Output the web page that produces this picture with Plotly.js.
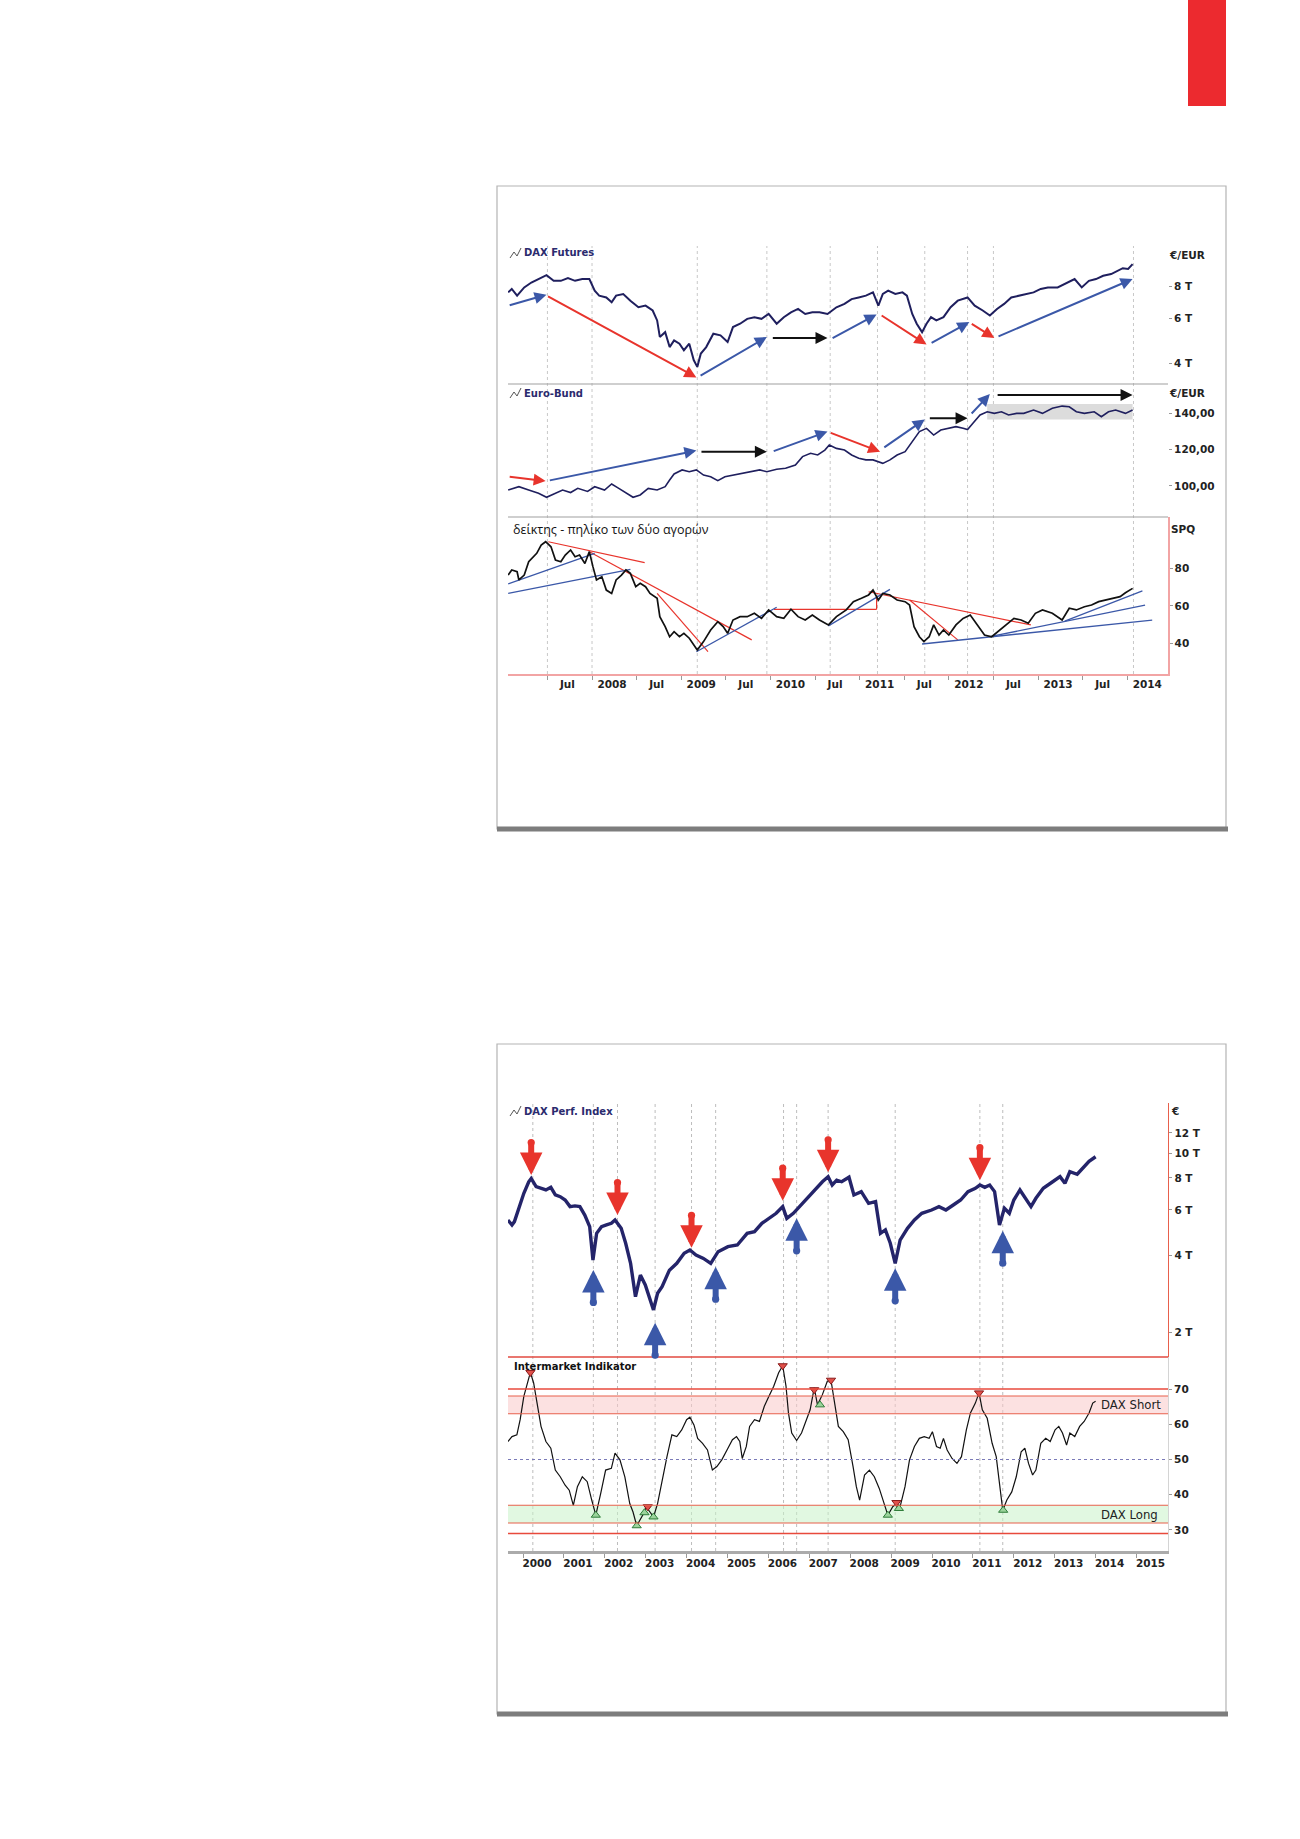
<!DOCTYPE html>
<html>
<head>
<meta charset="utf-8">
<script src="https://cdn.plot.ly/plotly-3.0.1.min.js"></script>
<style>html,body{margin:0;padding:0;background:#fff;}#chart{width:1300px;height:1839px;}</style>
</head>
<body>
<div id="chart"></div>
<script>
// ---------- Panel 1 : DAX Futures (decimal years) ----------
const daxFutT = [2007.06,2007.10,2007.16,2007.24,2007.32,2007.40,2007.49,2007.57,2007.65,2007.73,2007.81,2007.89,2007.97,
2008.03,2008.08,2008.16,2008.22,2008.27,2008.35,2008.43,2008.52,2008.60,2008.68,2008.73,2008.76,2008.82,2008.87,2008.92,2008.98,
2009.03,2009.09,2009.14,2009.18,2009.22,2009.28,2009.36,2009.44,2009.52,2009.58,2009.66,2009.74,2009.82,2009.90,2009.98,
2010.07,2010.15,2010.23,2010.31,2010.39,2010.47,2010.55,2010.64,2010.74,2010.83,2010.91,2010.99,
2011.07,2011.15,2011.21,2011.26,2011.32,2011.40,2011.48,2011.53,2011.59,2011.64,2011.70,2011.75,2011.80,2011.86,2011.94,
2012.02,2012.10,2012.21,2012.29,2012.38,2012.46,2012.54,2012.62,2012.70,2012.78,2012.86,2012.95,
2013.03,2013.11,2013.22,2013.33,2013.41,2013.49,2013.57,2013.65,2013.73,2013.82,2013.90,2013.95,2014.01,2014.06];
const daxFutV = [7600,7840,7380,7950,8310,8575,8880,8440,8440,8650,8440,8575,8575,
7720,7380,7260,6945,7380,7490,7050,6640,6740,6450,5895,5075,5300,4630,4920,4775,
4500,4775,4115,3870,4365,4630,5225,5150,4845,5550,5720,5980,6070,5980,6250,
5720,6070,6345,6540,6250,6345,6345,6250,6640,6845,7150,7260,
7380,7600,6740,7490,7720,7490,7600,7380,6250,5720,5300,5720,6070,5895,6070,
6640,7050,7260,6740,6450,6160,6540,6845,7260,7380,7490,7600,
7840,7950,7950,8310,8575,7950,8440,8575,8830,8970,9240,9465,9400,9815];

// ---------- Panel 1 : Euro-Bund ----------
const bundT = [2007.06,2007.18,2007.29,2007.40,2007.49,2007.59,2007.67,2007.76,2007.84,2007.95,2008.03,2008.14,2008.22,2008.30,2008.38,
2008.46,2008.54,2008.63,2008.73,2008.82,2008.87,2008.92,2009.01,2009.09,2009.17,2009.25,2009.33,2009.41,2009.49,2009.58,
2009.68,2009.79,2009.88,2009.96,2010.07,2010.17,2010.28,2010.36,2010.45,2010.53,2010.61,2010.66,2010.74,2010.83,2010.91,
2010.99,2011.07,2011.15,2011.26,2011.34,2011.42,2011.51,2011.59,2011.67,2011.75,2011.83,2011.91,2012.00,2012.08,2012.16,
2012.21,2012.27,2012.35,2012.43,2012.51,2012.59,2012.67,2012.76,2012.84,2012.95,2013.05,2013.16,2013.27,2013.35,2013.43,
2013.52,2013.63,2013.71,2013.79,2013.87,2013.98,2014.06];
const bundV = [97.8,99.6,97.8,96.0,93.8,96.0,97.8,96.4,98.7,97.0,99.6,97.8,101.1,98.7,96.0,
93.8,95.1,98.7,97.8,99.6,103.3,106.6,108.8,107.8,108.8,106.0,105.1,102.9,105.1,106.0,
107.0,107.8,108.8,107.8,109.2,109.7,111.5,116.1,117.9,117.0,119.7,122.5,120.6,119.7,117.0,
115.2,114.3,114.3,112.4,114.3,117.0,118.8,124.3,129.8,131.6,127.9,130.7,131.6,132.5,131.6,
130.9,134.4,138.9,140.7,139.8,140.7,138.9,139.8,139.8,141.6,139.8,142.6,143.8,143.4,140.7,
139.8,140.7,138.0,140.7,141.6,139.8,141.6];
const bundBand = {t0: 2012.43, t1: 2014.06, v0: 136.5, v1: 144.9};

// ---------- Panel 1 : ratio index (SPQ) ----------
const spqT = [2007.06,2007.10,2007.16,2007.18,2007.24,2007.29,2007.38,2007.43,2007.48,2007.54,2007.59,2007.65,2007.70,2007.76,2007.81,
2007.86,2007.92,2007.97,2008.01,2008.05,2008.11,2008.16,2008.22,2008.27,2008.33,2008.38,2008.43,2008.49,2008.54,2008.60,
2008.65,2008.73,2008.76,2008.82,2008.87,2008.92,2008.98,2009.03,2009.09,2009.14,2009.18,2009.25,2009.33,2009.41,2009.47,
2009.52,2009.58,2009.66,2009.74,2009.82,2009.90,2009.98,2010.07,2010.15,2010.23,2010.31,2010.39,2010.47,2010.55,2010.65,
2010.74,2010.85,2010.93,2011.02,2011.10,2011.15,2011.21,2011.26,2011.34,2011.42,2011.51,2011.56,2011.61,2011.67,2011.72,
2011.78,2011.83,2011.89,2011.94,2012.00,2012.08,2012.16,2012.24,2012.32,2012.40,2012.48,2012.57,2012.65,2012.73,2012.81,
2012.89,2012.97,2013.05,2013.16,2013.27,2013.35,2013.43,2013.52,2013.60,2013.68,2013.76,2013.84,2013.92,2013.98,2014.03,2014.06];
const spqV = [76.5,79.2,78.3,73.9,76.5,83.6,88.1,92.5,94.3,91.6,84.5,83.6,87.2,89.9,86.3,
87.2,82.7,89.0,81.0,73.9,75.6,68.5,66.7,73.9,76.5,79.2,77.4,70.3,72.1,70.3,
66.7,64.1,54.3,49.0,43.6,46.3,43.6,45.4,42.8,39.2,36.5,41.0,47.2,51.6,49.0,
45.4,52.5,54.3,54.3,56.1,53.4,57.9,54.3,53.4,58.3,54.3,52.5,55.2,52.5,49.9,
54.3,57.9,62.3,64.1,65.9,68.5,63.2,66.7,65.9,63.2,62.3,60.5,49.0,43.6,41.0,
43.6,49.9,44.5,47.2,44.5,49.9,53.4,55.2,49.9,44.5,43.6,47.2,49.9,53.4,52.5,
50.8,56.1,57.9,56.1,52.5,58.8,57.9,59.6,60.5,62.3,63.2,64.1,65.0,67.1,68.5,69.4];

// arrows drawn on the charts: [tailT, tailV, headT, headV]
const daxArrowsUp   = [[2007.06,6740,2007.49,7445],[2009.20,3545,2009.96,5075],[2010.68,4990,2011.19,6220],[2011.79,4775,2012.23,5805],[2012.54,5075,2014.06,8575]];
const daxArrowsDown = [[2007.49,7380,2009.17,3518],[2011.23,6220,2011.75,4735],[2012.24,5760,2012.51,5030]];
const daxArrowsFlat = [[2010.01,5030,2010.64,5030]];
const bundArrowsUp   = [[2007.51,102.9,2009.17,119.4],[2010.02,118.8,2010.64,129.8],[2011.26,120.6,2011.73,136.5],[2012.24,138.9,2012.46,150.4]];
const bundArrowsDown = [[2007.06,105.1,2007.48,102.7],[2010.66,129.4,2011.23,118.8]];
const bundArrowsFlat = [[2009.21,118.8,2009.96,118.8],[2011.77,137.1,2012.21,137.1],[2012.53,149.9,2014.06,149.9]];
// trend lines on the ratio: [t0, v0, t1, v1]
const spqLinesRed  = [[2007.51,94.3,2008.59,83.1],[2007.97,89.0,2009.79,41.9],[2008.73,66.7,2009.30,35.6],[2010.04,58.2,2011.19,58.2],[2011.19,58.2,2011.19,65.0],[2011.10,67.6,2012.92,49.9],[2011.56,63.2,2012.10,41.9]];
const spqLinesBlue = [[2007.06,71.8,2008.03,88.1],[2007.06,66.7,2008.43,79.6],[2009.17,35.6,2010.07,59.3],[2010.65,49.4,2011.34,68.9],[2011.70,39.7,2014.28,52.5],[2012.46,43.6,2014.20,60.5],[2013.30,51.9,2014.17,68.1]];
const panel1Grid = [2007.50,2008.00,2009.18,2009.96,2010.67,2011.20,2011.73,2012.21,2012.50,2014.07];
const panel1TickVals = [2007.5,2008,2008.5,2009,2009.5,2010,2010.5,2011,2011.5,2012,2012.5,2013,2013.5,2014];
const panel1TickText = ['Jul','2008','Jul','2009','Jul','2010','Jul','2011','Jul','2012','Jul','2013','Jul','2014'];

// ---------- Panel 2 : DAX Perf. Index ----------
const daxPerfT = [1999.63,1999.73,1999.79,1999.91,2000.02,2000.14,2000.20,2000.32,2000.44,2000.56,2000.68,2000.79,2000.91,
2001.03,2001.15,2001.27,2001.39,2001.51,2001.63,2001.71,2001.80,2001.92,2002.04,2002.16,2002.25,2002.40,2002.51,2002.63,2002.75,2002.87,2002.99,
2003.11,2003.19,2003.29,2003.40,2003.58,2003.76,2003.94,2004.08,2004.23,2004.41,2004.59,2004.77,2005.01,2005.24,2005.48,2005.66,2005.84,
2006.01,2006.19,2006.35,2006.45,2006.61,2006.79,2006.96,2007.14,2007.32,2007.46,2007.56,2007.67,2007.79,2007.97,
2008.09,2008.27,2008.45,2008.62,2008.74,2008.86,2008.98,2009.10,2009.22,2009.40,2009.57,2009.75,2009.99,
2010.17,2010.34,2010.52,2010.70,2010.88,2011.06,2011.17,2011.29,2011.41,2011.53,2011.65,2011.77,2011.89,
2012.00,2012.15,2012.30,2012.42,2012.54,2012.72,2012.95,2013.13,2013.25,2013.37,2013.55,2013.69,2013.84,2014.00];
const daxPerfV = [5480,5240,5400,6180,6970,7730,7960,7395,7290,7180,7350,6865,6760,
6560,6180,6220,6180,5730,5160,3825,4860,5160,5240,5320,5480,5085,4445,3710,2750,3340,3055,
2670,2440,2835,3010,3490,3710,4060,4185,4000,3880,3710,4120,4310,4375,4860,4935,5320,
5560,5820,6180,5560,5820,6270,6660,7180,7730,8090,7505,7840,7730,8050,
6865,7075,6365,6460,4860,5010,4445,3710,4575,5085,5480,5820,5995,
6180,5995,6270,6560,7075,7290,7505,7350,7505,7075,5240,6090,5820,
6560,7180,6560,6180,6660,7290,7730,8090,7620,8460,8270,8750,9290,9680];
const sellArrowTips = [[2000.20,8210],[2002.31,5730],[2004.12,4270],[2006.35,6520],[2007.46,8415],[2011.17,7840]];
const buyArrowTips  = [[2001.72,3497],[2003.23,2177],[2004.71,3600],[2006.69,5565],[2009.10,3548],[2011.73,4980]];

// ---------- Panel 2 : Intermarket Indikator ----------
const indT = [1999.63,1999.73,1999.85,1999.93,2000.02,2000.12,2000.18,2000.26,2000.36,2000.44,2000.56,2000.68,2000.79,2000.91,
2001.03,2001.13,2001.23,2001.33,2001.45,2001.57,2001.68,2001.78,2001.90,2002.02,2002.16,2002.25,2002.37,2002.49,2002.61,2002.69,
2002.78,2002.87,2002.97,2003.01,2003.11,2003.19,2003.29,2003.40,2003.52,2003.64,2003.76,2003.88,2004.00,2004.08,2004.18,
2004.27,2004.39,2004.51,2004.63,2004.74,2004.86,2005.01,2005.12,2005.22,2005.30,2005.36,2005.46,2005.54,2005.66,2005.78,
2005.90,2006.01,2006.13,2006.25,2006.35,2006.43,2006.49,2006.57,2006.69,2006.81,2006.93,2007.02,2007.12,2007.20,2007.32,
2007.44,2007.53,2007.62,2007.71,2007.83,2007.95,2008.07,2008.15,2008.23,2008.35,2008.47,2008.59,2008.71,2008.80,2008.92,
2009.04,2009.13,2009.22,2009.34,2009.45,2009.57,2009.69,2009.81,2009.93,2010.01,2010.11,2010.20,2010.28,2010.37,2010.49,
2010.61,2010.72,2010.84,2010.94,2011.06,2011.15,2011.23,2011.35,2011.47,2011.57,2011.65,2011.73,2011.83,2011.95,2012.06,
2012.18,2012.27,2012.36,2012.46,2012.54,2012.66,2012.78,2012.89,2013.01,2013.10,2013.19,2013.29,2013.37,2013.49,2013.61,
2013.72,2013.84,2013.93,2014.00];
const indV = [55.1,56.5,57.0,61.3,67.9,72.7,74.7,71.7,65.1,59.4,55.1,53.2,47.0,45.1,
42.7,41.3,37.0,42.3,45.1,43.7,38.5,34.2,40.4,47.0,47.5,51.8,49.9,45.1,37.5,35.1,
31.2,33.2,35.1,36.6,35.1,33.7,37.5,44.2,50.8,57.0,56.5,58.4,61.3,62.0,59.8,
56.0,54.6,52.7,47.0,48.0,49.9,53.2,55.6,56.5,55.1,50.3,53.7,59.4,61.3,60.8,
65.1,67.9,70.8,74.6,76.6,70.8,63.2,57.5,55.4,57.5,61.3,64.1,70.3,65.5,68.4,
72.2,72.5,66.0,59.4,57.9,55.6,48.0,42.3,38.5,45.6,47.0,45.1,41.8,38.5,34.2,
36.6,37.5,36.6,42.3,49.9,53.7,56.0,56.5,56.0,57.9,53.7,53.2,56.0,52.7,50.3,
48.9,50.8,58.4,63.2,66.0,68.9,64.1,61.7,54.6,50.8,42.3,35.6,38.5,40.8,45.1,
52.2,53.2,48.9,45.6,47.0,54.6,56.0,55.1,58.4,59.4,57.5,54.1,57.5,56.5,59.4,
60.8,63.2,66.0,66.5];
const sellSignals = [[2000.18,74.7],[2003.05,36.6],[2006.35,76.6],[2007.12,69.8],[2007.53,72.5],[2009.13,37.8],[2011.15,68.9]];
const buySignals  = [[2001.78,34.2],[2002.78,31.2],[2002.97,34.9],[2003.19,33.7],[2007.26,65.5],[2008.92,34.2],[2009.19,36.1],[2011.74,35.6]];
const shortZone = [63, 68];
const longZone  = [32, 37];
const redLevels = [70, 68, 63, 37, 32, 29];
const midLevel = 50;
const panel2Grid = [2000.24,2001.72,2002.31,2003.23,2004.12,2004.71,2006.37,2006.69,2007.46,2009.10,2011.17,2011.73];
const panel2Years = [2000,2001,2002,2003,2004,2005,2006,2007,2008,2009,2010,2011,2012,2013,2014,2015];

// ---------- drawing ----------
const W = 1300, H = 1839;
const fx = p => p / W, fy = p => 1 - p / H;
const X0 = 508, X1 = 1168;
const NAVY = '#1f1f5e', RED = '#e8342c', BLUE = '#3b58a8', LRED = '#e8604c';
const tickFont = {family: 'DejaVu Sans, Verdana, sans-serif', size: 10.5, color: '#222', weight: 'bold'};

const traces = [];
traces.push({x: daxFutT, y: daxFutV, xaxis: 'x', yaxis: 'y', mode: 'lines', line: {color: NAVY, width: 2}});
traces.push({x: bundT, y: bundV, xaxis: 'x', yaxis: 'y2', mode: 'lines', line: {color: NAVY, width: 1.6}});
spqLinesRed.forEach(l => traces.push({x: [l[0], l[2]], y: [l[1], l[3]], xaxis: 'x', yaxis: 'y3', mode: 'lines', line: {color: RED, width: 1.2}}));
spqLinesBlue.forEach(l => traces.push({x: [l[0], l[2]], y: [l[1], l[3]], xaxis: 'x', yaxis: 'y3', mode: 'lines', line: {color: BLUE, width: 1.3}}));
traces.push({x: spqT, y: spqV, xaxis: 'x', yaxis: 'y3', mode: 'lines', line: {color: '#111', width: 1.7}});
traces.push({x: daxPerfT, y: daxPerfV, xaxis: 'x2', yaxis: 'y4', mode: 'lines', line: {color: '#24246a', width: 3.4}});
traces.push({x: indT, y: indV, xaxis: 'x2', yaxis: 'y5', mode: 'lines', line: {color: '#111', width: 1.2}});
traces.push({x: buySignals.map(s => s[0]), y: buySignals.map(s => s[1]), xaxis: 'x2', yaxis: 'y5', mode: 'markers',
  marker: {symbol: 'triangle-up', size: 8, color: '#9bd49b', line: {color: '#2f7d3a', width: 1}}});
traces.push({x: sellSignals.map(s => s[0]), y: sellSignals.map(s => s[1]), xaxis: 'x2', yaxis: 'y5', mode: 'markers',
  marker: {symbol: 'triangle-down', size: 8, color: '#e0504a', line: {color: '#8a1c1c', width: 1}}});

const shapes = [];
const ann = [];
// red corner block
shapes.push({type: 'rect', xref: 'paper', yref: 'paper', x0: fx(1188), x1: fx(1226), y0: fy(106), y1: fy(0), fillcolor: '#ec2a2f', line: {width: 0}});
// panel frames
[[186, 829], [1044, 1714]].forEach(b => {
  shapes.push({type: 'rect', xref: 'paper', yref: 'paper', x0: fx(497), x1: fx(1226), y0: fy(b[1]), y1: fy(b[0]), line: {color: '#b4b4b4', width: 1.2}});
  shapes.push({type: 'line', xref: 'paper', yref: 'paper', x0: fx(497), x1: fx(1228), y0: fy(b[1]), y1: fy(b[1]), line: {color: '#7d7d7d', width: 5}});
});
// separators panel 1
[384, 517].forEach(p => shapes.push({type: 'line', xref: 'paper', yref: 'paper', x0: fx(X0), x1: fx(X1), y0: fy(p), y1: fy(p), line: {color: '#a0a0a0', width: 1.2}}));
// gridlines
panel1Grid.forEach(t => shapes.push({type: 'line', xref: 'x', yref: 'paper', x0: t, x1: t, y0: fy(674), y1: fy(246), layer: 'below', line: {color: '#c8c8c8', width: 1, dash: 'dot'}}));
panel2Grid.forEach(t => shapes.push({type: 'line', xref: 'x2', yref: 'paper', x0: t, x1: t, y0: fy(1551), y1: fy(1103), layer: 'below', line: {color: '#bdbdbd', width: 1, dash: 'dot'}}));
// bund consolidation band
shapes.push({type: 'rect', xref: 'x', yref: 'y2', x0: bundBand.t0, x1: bundBand.t1, y0: bundBand.v0, y1: bundBand.v1, fillcolor: '#dcdcdc', layer: 'below', line: {width: 0}});
// indicator zones
shapes.push({type: 'rect', xref: 'paper', yref: 'y5', x0: fx(X0), x1: fx(X1), y0: shortZone[0], y1: shortZone[1], fillcolor: 'rgba(250,200,200,0.55)', layer: 'below', line: {width: 0}});
shapes.push({type: 'rect', xref: 'paper', yref: 'y5', x0: fx(X0), x1: fx(X1), y0: longZone[0], y1: longZone[1], fillcolor: 'rgba(200,242,200,0.55)', layer: 'below', line: {width: 0}});
redLevels.forEach((v, i) => shapes.push({type: 'line', xref: 'paper', yref: 'y5', x0: fx(X0), x1: fx(X1), y0: v, y1: v,
  line: {color: (i === 0 || i === 5) ? '#e84a3c' : LRED, width: (i === 0 || i === 5) ? 1.6 : 1.1}}));
shapes.push({type: 'line', xref: 'paper', yref: 'y5', x0: fx(X0), x1: fx(X1), y0: midLevel, y1: midLevel, line: {color: '#7a7ab8', width: 1.2, dash: 'dot'}});
// panel 2 top red line of indicator
shapes.push({type: 'line', xref: 'paper', yref: 'paper', x0: fx(X0), x1: fx(X1), y0: fy(1357), y1: fy(1357), line: {color: '#e24a40', width: 1.5}});
// small line icons
[253, 393, 1111].forEach(p => shapes.push({type: 'path', xref: 'paper', yref: 'paper',
  path: `M ${fx(510)} ${fy(p + 5)} L ${fx(514)} ${fy(p - 1)} L ${fx(517)} ${fy(p + 3)} L ${fx(521)} ${fy(p - 5)}`, line: {color: '#555', width: 1}}));

// arrows panel 1
function addArrows(list, yref, isLog, color) {
  list.forEach(a => ann.push({xref: 'x', yref: yref, axref: 'x', ayref: yref, x: a[2], y: isLog ? Math.log10(a[3]) : a[3],
    ax: a[0], ay: isLog ? Math.log10(a[1]) : a[1], text: '', showarrow: true, arrowhead: 2, arrowsize: 1.2, arrowwidth: 2, arrowcolor: color, standoff: 0}));
}
addArrows(daxArrowsUp, 'y', true, BLUE);
addArrows(daxArrowsDown, 'y', true, RED);
addArrows(daxArrowsFlat, 'y', true, '#111');
addArrows(bundArrowsUp, 'y2', false, BLUE);
addArrows(bundArrowsDown, 'y2', false, RED);
addArrows(bundArrowsFlat, 'y2', false, '#111');
// big signal arrows panel 2
function bigArrow(a, dir, color) {
  ann.push({xref: 'x2', yref: 'y4', x: a[0], y: Math.log10(a[1]), ax: 0, ay: dir * 34, text: '', showarrow: true,
    arrowhead: 2, arrowsize: 0.75, arrowwidth: 6, arrowcolor: color, standoff: 0,
    arrowside: 'end+start', startarrowhead: 6, startarrowsize: 0.3});
}
sellArrowTips.forEach(a => bigArrow(a, -1, RED));
buyArrowTips.forEach(a => bigArrow(a, 1, BLUE));

// texts
function txt(s, x, y, font, anchor) {
  ann.push({xref: 'paper', yref: 'paper', x: fx(x), y: fy(y), text: s, showarrow: false, xanchor: anchor || 'left', yanchor: 'middle', font: font});
}
const titleFont = {family: 'DejaVu Sans, Verdana, sans-serif', size: 10, color: '#2b2b6e', weight: 'bold'};
txt('DAX Futures', 522, 253, titleFont);
txt('Euro-Bund', 522, 393, titleFont);
txt('DAX Perf. Index', 522, 1111, titleFont);
txt('€/EUR', 1167, 255, tickFont);
txt('€/EUR', 1167, 393, tickFont);
txt('SPQ', 1169, 529, tickFont);
txt('€', 1169, 1111, tickFont);
txt('δείκτης - πηλίκο των δύο αγορών', 511, 529, {family: 'Open Sans, Noto Sans, sans-serif', size: 12.5, color: '#111'});
txt('Intermarket Indikator', 512, 1366, {family: 'DejaVu Sans, Verdana, sans-serif', size: 10, color: '#111', weight: 'bold'});
txt('DAX Short', 1163, 1404, {family: 'DejaVu Sans Condensed, Liberation Sans Narrow, Liberation Sans, sans-serif', size: 13, color: '#222'}, 'right');
txt('DAX Long', 1160, 1514, {family: 'DejaVu Sans Condensed, Liberation Sans Narrow, Liberation Sans, sans-serif', size: 13, color: '#222'}, 'right');

const yCommon = {side: 'right', ticks: 'outside', ticklen: 3, tickcolor: '#999', showgrid: false, zeroline: false, tickfont: tickFont, fixedrange: true};
const layout = {
  width: W, height: H, margin: {l: 0, r: 0, t: 0, b: 0}, paper_bgcolor: '#fff', plot_bgcolor: 'rgba(0,0,0,0)', showlegend: false,
  xaxis: {domain: [fx(X0), fx(X1)], range: [2007.058, 2014.457], anchor: 'y3', tickmode: 'array', tickvals: panel1TickVals, ticktext: panel1TickText,
    ticks: 'outside', ticklen: 4, tickcolor: '#999', showgrid: false, zeroline: false, showline: true, linecolor: '#f2a4a4', linewidth: 1.5,
    tickfont: tickFont, ticklabelshift: 20, ticklabelstandoff: -4},
  yaxis: Object.assign({}, yCommon, {domain: [fy(384), fy(246)], type: 'log', range: [3.5203, 4.0633], anchor: 'x',
    tickmode: 'array', tickvals: [4000, 6000, 8000], ticktext: ['4 T', '6 T', '8 T'], showline: false}),
  yaxis2: Object.assign({}, yCommon, {domain: [fy(517), fy(384)], range: [83.0, 155.9], anchor: 'x',
    tickmode: 'array', tickvals: [100, 120, 140], ticktext: ['100,00', '120,00', '140,00'], showline: false}),
  yaxis3: Object.assign({}, yCommon, {domain: [fy(674), fy(517)], range: [23.7, 107.5], anchor: 'x',
    tickmode: 'array', tickvals: [40, 60, 80], ticktext: ['40', '60', '80'], showline: true, linecolor: '#f2a4a4', linewidth: 1.5}),
  xaxis2: {domain: [fx(X0), fx(X1)], range: [1999.633, 2015.77], anchor: 'y5', tickmode: 'array', tickvals: panel2Years, ticktext: panel2Years.map(String),
    ticks: 'outside', ticklen: 4, tickcolor: '#999', showgrid: false, zeroline: false, showline: true, linecolor: '#ababab', linewidth: 3,
    tickfont: tickFont, ticklabelshift: 14, ticklabelstandoff: -4},
  yaxis4: Object.assign({}, yCommon, {domain: [fy(1357), fy(1103)], type: 'log', range: [3.2036, 4.1958], anchor: 'x2',
    tickmode: 'array', tickvals: [2000, 4000, 6000, 8000, 10000, 12000], ticktext: ['2 T', '4 T', '6 T', '8 T', '10 T', '12 T'],
    showline: true, linecolor: '#e8604c', linewidth: 1.3}),
  yaxis5: Object.assign({}, yCommon, {domain: [fy(1551), fy(1357)], range: [24.04, 79.08], anchor: 'x2',
    tickmode: 'array', tickvals: [30, 40, 50, 60, 70], ticktext: ['30', '40', '50', '60', '70'], showline: true, linecolor: '#d4d4d4', linewidth: 1}),
  shapes: shapes,
  annotations: ann
};
Plotly.newPlot('chart', traces, layout, {staticPlot: true, displayModeBar: false});
</script>
</body>
</html>
